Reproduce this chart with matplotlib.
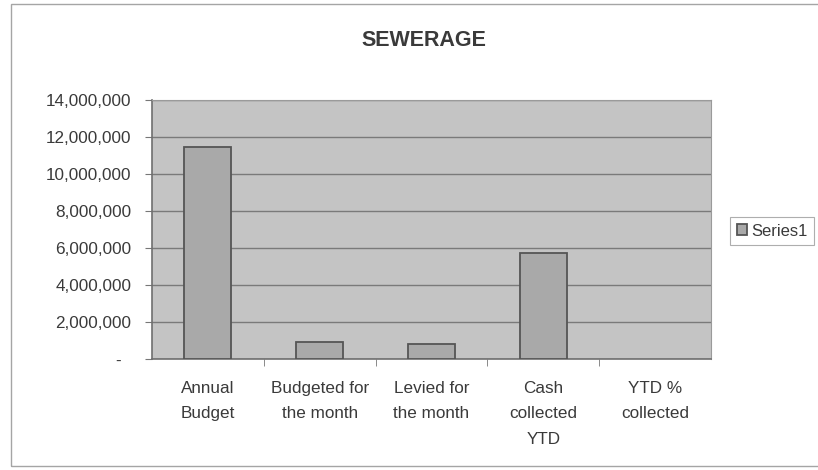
import matplotlib
matplotlib.use("Agg")
import matplotlib.pyplot as plt
from matplotlib.patches import Rectangle
from matplotlib.ticker import FuncFormatter

plt.rcParams["font.family"] = ["Liberation Sans", "DejaVu Sans"]

# 資料
categories = ["Annual\nBudget", "Budgeted for\nthe month", "Levied for\nthe month",
              "Cash\ncollected\nYTD", "YTD %\ncollected"]
values = [11450000, 920000, 830000, 5750000, 0]
yticks = list(range(0, 14000001, 2000000))

TEXT = "#3a3a3a"

fig = plt.figure(figsize=(8.18, 4.70), dpi=100)
fig.patch.set_facecolor("white")
# 外框
fig.patches.append(Rectangle((11 / 818, 4 / 470), 1.2, 462 / 470, transform=fig.transFigure,
                             fill=False, edgecolor="#a5a5a5", lw=1.0))

ax = fig.add_axes([152 / 818, 1 - 359 / 470, 559 / 818, 259 / 470])
ax.set_facecolor("#c4c4c4")
x = list(range(len(categories)))
bars = ax.bar(x, values, width=0.42, color="#a9a9a9", edgecolor="#555555", lw=1.3,
              zorder=3, label="Series1")
for b, v in zip(bars, values):
    if v == 0:
        b.set_linewidth(0)

ax.set_xlim(-0.5, len(categories) - 0.5)
ax.set_ylim(0, 14000000)
ax.set_yticks(yticks)
ax.yaxis.set_major_formatter(FuncFormatter(lambda v, p: "-  " if v == 0 else f"{int(v):,}"))
ax.grid(axis="y", color="#7a7a7a", lw=1.0, zorder=1)

ax.set_xticks([i + 0.5 for i in x[:-1]], minor=True)
ax.set_xticks(x)
ax.set_xticklabels(categories, linespacing=1.85)
ax.tick_params(axis="x", which="major", length=0, pad=16, labelsize=12.3, colors=TEXT)
ax.tick_params(axis="x", which="minor", length=5, color="#777777")
ax.tick_params(axis="y", length=5, color="#777777", labelsize=12.3, colors=TEXT, pad=10)

for s in ["top", "right"]:
    ax.spines[s].set_color("#9a9a9a")
for s in ["left", "bottom"]:
    ax.spines[s].set_color("#6f6f6f")
    ax.spines[s].set_linewidth(1.2)

fig.text(424 / 818, 1 - 41 / 470, "SEWERAGE", ha="center", va="center",
         fontsize=15.5, fontweight="bold", color=TEXT)

leg = ax.legend(loc="center left", bbox_to_anchor=(730 / 818, 1 - 231 / 470),
                bbox_transform=fig.transFigure, frameon=True, fancybox=False,
                fontsize=12, handlelength=0.6, handleheight=0.6, handletextpad=0.25,
                borderpad=0.4, borderaxespad=0)
leg.get_frame().set_edgecolor("#9a9a9a")
leg.get_frame().set_linewidth(0.8)
for t in leg.get_texts():
    t.set_color(TEXT)

fig.savefig("out.png", dpi=100)
